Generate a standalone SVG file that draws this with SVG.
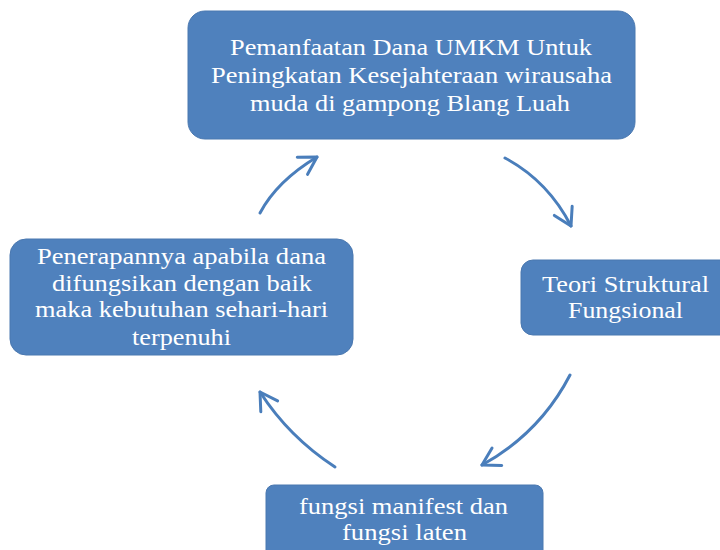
<svg xmlns="http://www.w3.org/2000/svg" width="720" height="550" viewBox="0 0 720 550">
<style>
.box{fill:#4f81bd;stroke:#4a78b0;stroke-width:1}
.t{font-family:"Liberation Serif","Times New Roman",serif;font-size:23px;fill:#ffffff;text-anchor:middle}
.c{fill:none;stroke:#4a7ebb;stroke-width:3;stroke-linecap:round}
</style>
<defs>
<marker id="ah" markerUnits="userSpaceOnUse" markerWidth="30" markerHeight="30" viewBox="-20 -15 25 30" refX="0" refY="0" orient="auto">
<path d="M-17,-10 L0,0 L-17,10" fill="none" stroke="#4a7ebb" stroke-width="3" stroke-linecap="round" stroke-linejoin="round"/>
</marker>
</defs>
<rect width="720" height="550" fill="#ffffff"/>
<g id="node-top">
<rect class="box" x="188" y="11" width="447" height="128" rx="17"/>
<text class="t" x="411" y="55" textLength="362" lengthAdjust="spacingAndGlyphs">Pemanfaatan Dana UMKM Untuk</text>
<text class="t" x="411.5" y="83" textLength="401" lengthAdjust="spacingAndGlyphs">Peningkatan Kesejahteraan wirausaha</text>
<text class="t" x="410" y="111" textLength="320" lengthAdjust="spacingAndGlyphs">muda di gampong Blang Luah</text>
</g>
<g id="node-right">
<rect class="box" x="521" y="260" width="215" height="75" rx="12"/>
<text class="t" x="625.5" y="292" textLength="167" lengthAdjust="spacingAndGlyphs">Teori Struktural</text>
<text class="t" x="625.5" y="318" textLength="115" lengthAdjust="spacingAndGlyphs">Fungsional</text>
</g>
<g id="node-bottom">
<rect class="box" x="266" y="485" width="277" height="80" rx="8"/>
<text class="t" x="403.5" y="514" textLength="209" lengthAdjust="spacingAndGlyphs">fungsi manifest dan</text>
<text class="t" x="404.5" y="540" textLength="125" lengthAdjust="spacingAndGlyphs">fungsi laten</text>
</g>
<g id="node-left">
<rect class="box" x="10" y="239" width="343" height="116" rx="16"/>
<text class="t" x="181.5" y="264" textLength="289" lengthAdjust="spacingAndGlyphs">Penerapannya apabila dana</text>
<text class="t" x="182" y="291" textLength="260" lengthAdjust="spacingAndGlyphs">difungsikan dengan baik</text>
<text class="t" x="181.5" y="317" textLength="293" lengthAdjust="spacingAndGlyphs">maka kebutuhan sehari-hari</text>
<text class="t" x="181.5" y="345" textLength="99" lengthAdjust="spacingAndGlyphs">terpenuhi</text>
</g>
<g id="connectors">
<path class="c" d="M505,158 Q548,181 571,226" marker-end="url(#ah)"/>
<path class="c" d="M570,375 Q540,433 482,465" marker-end="url(#ah)"/>
<path class="c" d="M335,467 Q289,437 260,392" marker-end="url(#ah)"/>
<path class="c" d="M260,213 Q277,181 317,157" marker-end="url(#ah)"/>
</g>
</svg>
